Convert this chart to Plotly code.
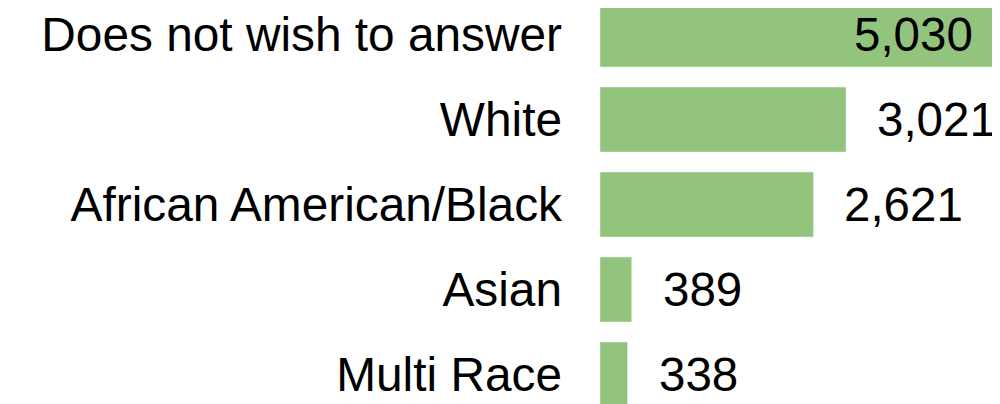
import plotly.graph_objects as go

categories = ["Does not wish to answer", "White", "African American/Black", "Asian", "Multi Race"]
counts = [5030, 3021, 2621, 389, 338]
labels = ["5,030", "3,021", "2,621", "389", "338"]
inside = [True, False, False, False, False]

fig = go.Figure(go.Bar(
    y=categories, x=counts, orientation="h",
    marker_color="#93c47d", width=0.765,
    textposition="none",
))

# value labels: first one inside the bar end, others to the right of the bar
for cat, val, lab, ins in zip(categories, counts, labels, inside):
    fig.add_annotation(
        x=val, y=cat, text=lab, showarrow=False,
        xanchor="right" if ins else "left",
        xshift=-35 if ins else 29,
        font=dict(size=47.5, color="black"),
    )

fig.update_layout(
    width=1010, height=396,
    margin=dict(l=592, r=0, t=0, b=0),
    plot_bgcolor="white", paper_bgcolor="white",
    font=dict(family="Arial, Liberation Sans, sans-serif", size=47.8, color="black"),
    showlegend=False,
)
fig.update_xaxes(range=[0, 5133], visible=False)
fig.update_yaxes(categoryorder="array", categoryarray=categories,
                 range=[4.347, -0.312], showgrid=False, showline=False,
                 ticks="", ticklabelstandoff=37, tickfont=dict(size=47.8))

fig.write_html("out.html")
